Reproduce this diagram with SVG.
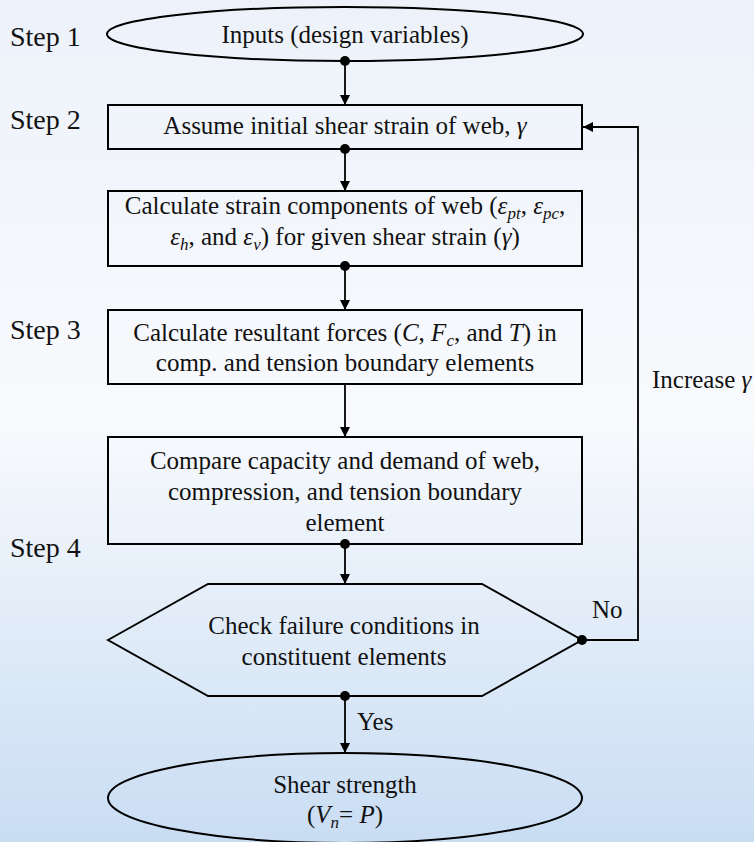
<svg xmlns="http://www.w3.org/2000/svg" width="754" height="842" viewBox="0 0 754 842" font-family="'Liberation Serif', Tinos, 'Times New Roman', Times, 'Noto Serif', FreeSerif, 'Nimbus Roman', 'DejaVu Serif', serif">
<defs>
<linearGradient id="bg" x1="0" y1="0" x2="0" y2="1">
<stop offset="0" stop-color="#edf2fa"/>
<stop offset="0.5" stop-color="#f8fafd"/>
<stop offset="1" stop-color="#c9ddf3"/>
</linearGradient>
<marker id="arr" viewBox="0 0 10 10" refX="10" refY="5" markerWidth="10" markerHeight="10" markerUnits="userSpaceOnUse" orient="auto">
<path d="M0,0 L10,5 L0,10 Z" fill="#000"/>
</marker>
<style>
.t{font-family:'Liberation Serif',Tinos,'Times New Roman',Times,'Noto Serif',FreeSerif,'Nimbus Roman','DejaVu Serif',serif;font-size:25px;fill:#111}
.s{font-family:'Liberation Serif',Tinos,'Times New Roman',Times,'Noto Serif',FreeSerif,'Nimbus Roman','DejaVu Serif',serif;font-size:28px;fill:#111}
.i{font-style:italic}
.sb{font-style:italic;font-size:17px}
.shape{fill:none;stroke:#000;stroke-width:2}
.line{fill:none;stroke:#000;stroke-width:1.8}
.dot{fill:#000}
</style>
</defs>
<rect x="0" y="0" width="754" height="842" fill="url(#bg)"/>

<g id="labels">
<text class="s" x="10" y="46">Step 1</text>
<text class="s" x="10" y="129">Step 2</text>
<text class="s" x="10" y="339">Step 3</text>
<text class="s" x="10" y="557">Step 4</text>
</g>

<g id="n1">
<ellipse class="shape" cx="345" cy="34" rx="238" ry="27"/>
<text class="t" x="345" y="43" text-anchor="middle">Inputs (design variables)</text>
</g>

<g id="n2">
<rect class="shape" x="108" y="105" width="474" height="44"/>
<text class="t" x="345" y="134" text-anchor="middle">Assume initial shear strain of web, <tspan class="i">γ</tspan></text>
</g>

<g id="n3">
<rect class="shape" x="108" y="191" width="474" height="75"/>
<text class="t" x="345" y="214" text-anchor="middle">Calculate strain components of web (<tspan class="i">ε</tspan><tspan class="sb" dy="5">pt</tspan><tspan dy="-5">, </tspan><tspan class="i">ε</tspan><tspan class="sb" dy="5">pc</tspan><tspan dy="-5">,</tspan></text>
<text class="t" x="345" y="245" text-anchor="middle"><tspan class="i">ε</tspan><tspan class="sb" dy="5">h</tspan><tspan dy="-5">, and </tspan><tspan class="i">ε</tspan><tspan class="sb" dy="5">v</tspan><tspan dy="-5">) for  given shear strain (</tspan><tspan class="i">γ</tspan>)</text>
</g>

<g id="n4">
<rect class="shape" x="108" y="310" width="474" height="74"/>
<text class="t" x="345" y="341" text-anchor="middle">Calculate resultant forces (<tspan class="i">C</tspan>, <tspan class="i">F</tspan><tspan class="sb" dy="5">c</tspan><tspan dy="-5">, and </tspan><tspan class="i">T</tspan>) in</text>
<text class="t" x="345" y="371" text-anchor="middle">comp. and tension boundary elements</text>
</g>

<g id="n5">
<rect class="shape" x="108" y="437" width="474" height="107"/>
<text class="t" x="345" y="469" text-anchor="middle">Compare capacity and demand of web,</text>
<text class="t" x="345" y="500" text-anchor="middle">compression, and tension boundary</text>
<text class="t" x="345" y="531" text-anchor="middle">element</text>
</g>

<g id="n6">
<polygon class="shape" points="108,640 208,584 482,584 582,640 482,696 208,696"/>
<text class="t" x="344" y="634" text-anchor="middle">Check failure conditions in</text>
<text class="t" x="344" y="665" text-anchor="middle">constituent elements</text>
</g>

<g id="n7">
<ellipse class="shape" cx="345" cy="798" rx="237" ry="45"/>
<text class="t" x="345" y="793" text-anchor="middle">Shear strength</text>
<text class="t" x="345" y="823" text-anchor="middle">(<tspan class="i">V</tspan><tspan class="sb" dy="5">n</tspan><tspan dy="-5">= </tspan><tspan class="i">P</tspan>)</text>
</g>

<g id="connectors">
<line class="line" x1="345" y1="61" x2="345" y2="105" marker-end="url(#arr)"/>
<circle class="dot" cx="345" cy="61" r="5"/>
<line class="line" x1="345" y1="149" x2="345" y2="191" marker-end="url(#arr)"/>
<circle class="dot" cx="345" cy="149" r="5"/>
<line class="line" x1="345" y1="266" x2="345" y2="310" marker-end="url(#arr)"/>
<circle class="dot" cx="345" cy="266" r="5"/>
<line class="line" x1="345" y1="384" x2="345" y2="437" marker-end="url(#arr)"/>
<line class="line" x1="345" y1="544" x2="345" y2="584" marker-end="url(#arr)"/>
<circle class="dot" cx="345" cy="544" r="5"/>
<polyline class="line" points="582,640 638,640 638,127 583,127" marker-end="url(#arr)"/>
<circle class="dot" cx="582" cy="640" r="5"/>
<line class="line" x1="345" y1="696" x2="345" y2="753" marker-end="url(#arr)"/>
<circle class="dot" cx="345" cy="696" r="5"/>
<text class="t" x="592" y="618">No</text>
<text class="t" x="357" y="730">Yes</text>
<text class="t" x="652" y="388">Increase <tspan class="i">γ</tspan></text>
</g>
</svg>
